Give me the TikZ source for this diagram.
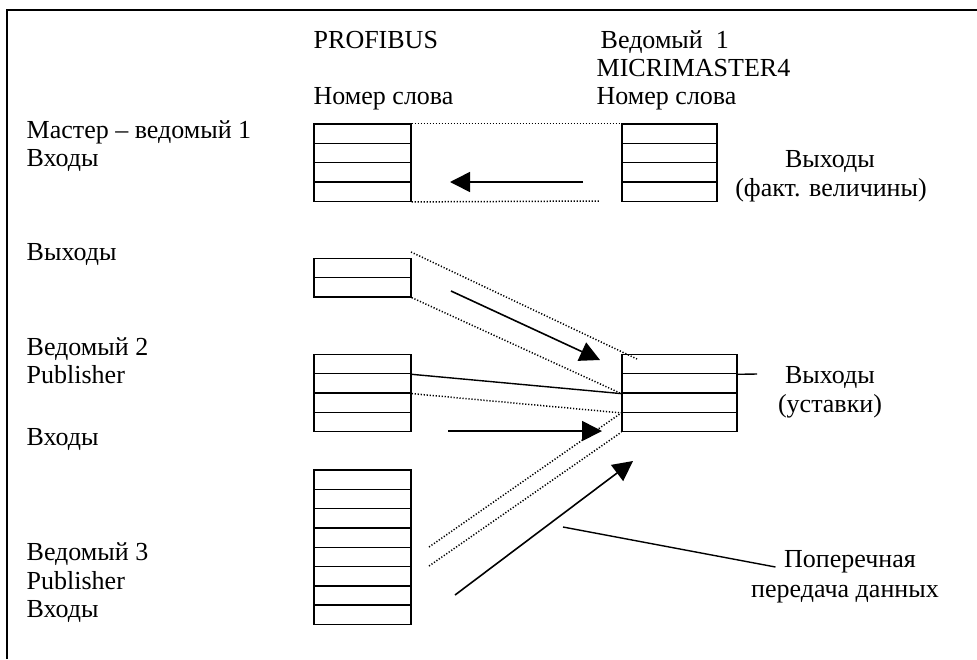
\documentclass[tikz,border=0pt]{standalone}
\usepackage{fontspec}
\setmainfont{Liberation Serif}
\usetikzlibrary{positioning,arrows.meta}
\begin{document}
\begin{tikzpicture}[x=0.5pt, y=-0.5pt, line width=0.7pt,
    cell/.style = {draw, minimum width=48.5pt, minimum height=9.65pt, inner sep=0pt},
    lbl/.style = {anchor=base west, inner sep=0pt, font=\fontsize{13}{15}\selectfont},
    mid/.style = {lbl, anchor=base},
    dots/.style = {line width=0.75pt, dash pattern=on 0.6pt off 0.9pt},
    arr/.style = {line width=0.8pt, -{Triangle[length=10pt, width=10pt]}}]
    \useasboundingbox (0,0) rectangle (977,659);
    \draw (7,659) -- (7,10) -- (977,10);

    % word tables
    \foreach \i in {1,...,4} {
        \node[cell] (in\i) at (362.5, {114.35+19.3*\i}) {};
        \node[cell, minimum width=47.5pt] (act\i) at (669.5, {114.35+19.3*\i}) {};
        \node[cell] (pub\i) at (362.5, {344.65+19.3*\i}) {};
        \node[cell, minimum width=57.5pt] (set\i) at (679.5, {344.65+19.3*\i}) {};
    }
    \foreach \i in {1,2}
        \node[cell] (out\i) at (362.5, {248.65+19.3*\i}) {};
    \foreach \i in {1,...,8}
        \node[cell] (sub\i) at (362.5, {460.35+19.3*\i}) {};

    % headings
    \node[lbl] (bus) at (313,48) {PROFIBUS};
    \node[lbl] (wordl) at (313,104) {Номер слова};
    \node[lbl] (mm1) at (600,48) {Ведомый\ \ 1};
    \node[lbl] (mm2) at (596,76) {MICRIMASTER4};
    \node[lbl] (wordr) at (596,104) {Номер слова};

    % left labels
    \node[lbl] (ms1) at (26,138) {Мастер – ведомый 1};
    \node[lbl] (ms2) at (26,166) {Входы};
    \node[lbl] (ms3) at (26,260) {Выходы};
    \node[lbl] (sl2a) at (26,355) {Ведомый 2};
    \node[lbl] (sl2b) at (26,383) {Publisher};
    \node[lbl] (sl2c) at (26,445) {Входы};
    \node[lbl] (sl3a) at (26,560) {Ведомый 3};
    \node[lbl] (sl3b) at (26,589) {Publisher};
    \node[lbl] (sl3c) at (26,617) {Входы};

    % right labels
    \node[mid] (acta) at (830,167) {Выходы};
    \node[mid] (actb) at (831,196) {(факт. величины)};
    \node[mid] (seta) at (830,383) {Выходы};
    \node[mid] (setb) at (830,412) {(уставки)};
    \node[mid] (pp) at (850,567) {Поперечная};
    \node[mid] (pd) at (845,597) {передача данных};

    % master inputs
    \coordinate (inend) at (600,201);
    \coordinate (a1s) at (583,182);
    \coordinate (a1e) at (450,182);
    \draw[dots] (in1.north east) -- (act1.north west);
    \draw[dots] (in4.south east) -- (inend);
    \draw[arr] (a1s) -- (a1e);

    % master outputs
    \coordinate (o1s) at (411,252);
    \coordinate (o1e) at (637,359);
    \coordinate (a2s) at (451,291);
    \coordinate (a2e) at (600,360);
    \draw[dots] (o1s) -- (o1e);
    \draw[dots] (out2.south east) -- (set2.south west);
    \draw[arr] (a2s) -- (a2e);

    % slave 2
    \coordinate (a3s) at (448,431);
    \coordinate (a3e) at (602,431);
    \draw (pub1.south east) -- (set2.south west);
    \draw[dots] (pub2.south east) -- (set3.south west);
    \draw[arr] (a3s) -- (a3e);

    % slave 3
    \coordinate (c1) at (429,547);
    \coordinate (c2) at (429,566);
    \coordinate (a4s) at (455,595);
    \coordinate (a4e) at (633,461);
    \draw[dots] (c1) -- (set3.south west);
    \draw[dots] (c2) -- (set4.south west);
    \draw[arr] (a4s) -- (a4e);

    \coordinate (tail) at (757,374);
    \coordinate (cross) at (563,527);
    \draw (set1.south east) -- (tail);
    \draw (cross) -- ([xshift=-4pt]pp.base west);
\end{tikzpicture}
\end{document}
